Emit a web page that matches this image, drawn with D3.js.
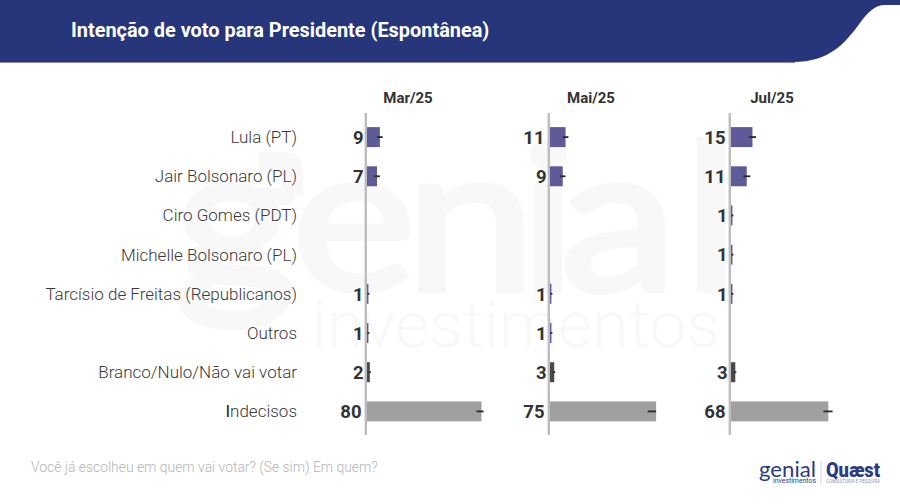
<!DOCTYPE html>
<html><head><meta charset="utf-8">
<script src="https://cdn.jsdelivr.net/npm/d3@7/dist/d3.min.js"></script>
<style>html,body{margin:0;padding:0;background:#fff}svg{display:block}text{font-family:Roboto,sans-serif}</style>
</head><body><div id="c"></div>
<script>
const categories=["Lula (PT)","Jair Bolsonaro (PL)","Ciro Gomes (PDT)","Michelle Bolsonaro (PL)","Tarcísio de Freitas (Republicanos)","Outros","Branco/Nulo/Não vai votar","Indecisos"];
const periods=["Mar/25","Mai/25","Jul/25"];
const mar=[9,7,null,null,1,1,2,80];
const mai=[11,9,null,null,1,1,3,75];
const jul=[15,11,1,1,1,null,3,68];
const lowMar=[2,2,null,null,0.7,0.7,0.7,3.5];
const highMar=[2,2,null,null,0.7,0.7,0.7,1.5];
const lowMai=[2,2,null,null,0.7,0.7,0.7,6];
const highMai=[2,2,null,null,0.7,0.7,0.7,0];
const lowJul=[2.5,2.5,0.7,0.7,0.7,null,0.7,3.5];
const highJul=[2.5,2.5,0.7,0.7,0.7,null,0.7,3];
const barColors=["#5f5b99","#5f5b99","#5f5b99","#5f5b99","#5f5b99","#5f5b99","#4a4a4a","#a0a0a0"];
const panelStarts=[367,550,731];
const panelSpans=[114.5,113.2,114.5];

const W=900,H=504;
const svg=d3.select("#c").append("svg").attr("width",W).attr("height",H).attr("viewBox",`0 0 ${W} ${H}`);
svg.append("rect").attr("width",W).attr("height",H).attr("fill","#fff");

// watermark
const wm=svg.append("g").attr("fill","#f8f8f8");
const wmScale=1.15;
wm.append("text").attr("transform",`scale(${wmScale},1)`).attr("x",[174,292,405,520,560,683].map(v=>v/wmScale).join(" ")).attr("y",290).attr("font-size",204).attr("stroke","#f8f8f8").attr("stroke-width",6).style("font-family","Lato").text("genial");
wm.append("path").attr("d","M258 163H283Q292 163 292 172V195").attr("fill","none").attr("stroke","#f8f8f8").attr("stroke-width",22);
wm.append("text").attr("x",312).attr("y",347).attr("font-size",64).attr("font-weight",300).attr("textLength",408).attr("lengthAdjust","spacingAndGlyphs").text("investimentos");

// header
svg.append("path").attr("d","M0 0H900V5H885C875 5 868 12 860 23C845 43 830 62 793 62H0Z").attr("fill","#27357a");
svg.append("line").attr("x1",0).attr("x2",795).attr("y1",62.5).attr("y2",62.5).attr("stroke","#7d86b5").attr("stroke-width",1);
svg.append("text").attr("x",71).attr("y",37).attr("fill","#fff").attr("font-size",19.9).attr("font-weight",700).text("Intenção de voto para Presidente (Espontânea)");

const y=d3.scaleBand().domain(categories).range([117.5,431]).paddingInner(0.49).paddingOuter(0.245);

// row labels
svg.append("g").selectAll("text").data(categories).join("text")
 .attr("x",297).attr("y",d=>y(d)+y.bandwidth()/2).attr("dy","0.35em").attr("text-anchor","end")
 .attr("font-size",17).attr("font-weight",300).attr("fill","#3a3a3a")
 .each(function(d){
   const t=d3.select(this);
   if(d==="Indecisos"){
     t.append("tspan").attr("fill","#222").attr("font-weight",400).text(d[0]);
     t.append("tspan").text(d.slice(1));
   } else t.text(d);
 });

[mar,mai,jul].forEach((vals,p)=>{
 const low=[lowMar,lowMai,lowJul][p], high=[highMar,highMai,highJul][p];
 const x=d3.scaleLinear().domain([0,80]).range([0,panelSpans[p]]);
 const g=svg.append("g").attr("transform",`translate(${panelStarts[p]},0)`);
 const rows=categories.map((c,i)=>({c,v:vals[i],lo:low[i],hi:high[i],col:barColors[i]})).filter(d=>d.v!==null);
 g.append("text").attr("x",41).attr("y",103).attr("text-anchor","middle").attr("font-size",15).attr("font-weight",700).attr("fill","#333").text(periods[p]);
 g.selectAll("rect").data(rows).join("rect").attr("x",0).attr("y",d=>y(d.c)).attr("width",d=>x(d.v)).attr("height",y.bandwidth()).attr("fill",d=>d.col);
 g.selectAll("line.err").data(rows).join("line").attr("class","err")
  .attr("x1",d=>x(d.v-d.lo)).attr("x2",d=>x(d.v+d.hi))
  .attr("y1",d=>y(d.c)+y.bandwidth()/2).attr("y2",d=>y(d.c)+y.bandwidth()/2)
  .attr("stroke","#2b2b2b").attr("stroke-width",1.8);
 g.append("line").attr("x1",-1.2).attr("x2",-1.2).attr("y1",113).attr("y2",435).attr("stroke","#bdbdbd").attr("stroke-width",2.4);
 g.selectAll("text.val").data(rows).join("text").attr("class","val")
  .attr("x",d=>d.v>=10?-5.5:-3.5).attr("y",d=>y(d.c)+y.bandwidth()/2).attr("dy","0.36em").attr("text-anchor","end")
  .attr("font-size",18.5).attr("font-weight",700).attr("fill","#333").text(d=>d.v);
});

// footer
svg.append("text").attr("x",31).attr("y",472).attr("font-size",13.9).attr("font-weight",300).attr("fill","#b4b4b4").text("Você já escolheu em quem vai votar? (Se sim) Em quem?");
const lg=svg.append("g").attr("fill","#2c3a82");
lg.append("text").attr("x",759).attr("y",477).attr("font-size",21).attr("font-weight",400).attr("textLength",57).attr("lengthAdjust","spacingAndGlyphs").style("font-family","Lato").text("genial");
lg.append("text").attr("x",773).attr("y",483).attr("font-size",7).attr("textLength",43).attr("lengthAdjust","spacingAndGlyphs").text("investimentos");
svg.append("line").attr("x1",821).attr("x2",821).attr("y1",461).attr("y2",484).attr("stroke","#cfd2e2");
lg.append("text").attr("x",826).attr("y",477).attr("font-size",20).attr("font-weight",900).attr("textLength",54).attr("lengthAdjust","spacingAndGlyphs").text("Quæst");
lg.append("text").attr("x",826).attr("y",483).attr("font-size",4.5).attr("fill","#8a90b5").attr("textLength",54).attr("lengthAdjust","spacingAndGlyphs").text("CONSULTORIA E PESQUISA");
</script></body></html>
